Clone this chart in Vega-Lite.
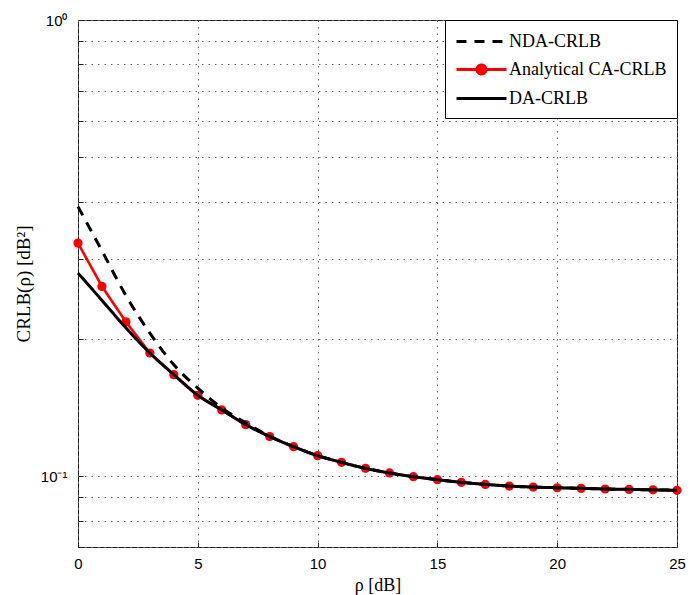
{
  "$schema": "https://vega.github.io/schema/vega-lite/v6.json",
  "width": 599,
  "height": 527,
  "autosize": {"type": "none"},
  "padding": {"left": 78, "top": 20, "right": 22, "bottom": 48},
  "background": "white",
  "config": {
    "view": {"stroke": "#222", "strokeWidth": 1},
    "font": "Liberation Sans",
    "legend": {
      "orient": "top-right",
      "offset": 0,
      "padding": 10,
      "strokeColor": "#000",
      "fillColor": "#ffffff",
      "cornerRadius": 0,
      "symbolSize": 400,
      "symbolStrokeWidth": 3,
      "symbolOffset": 15,
      "labelOffset": 16,
      "labelFont": "Liberation Serif",
      "labelFontSize": 18,
      "labelColor": "#000",
      "labelLimit": 300,
      "labelExpr": "datum.label + '\u00a0\u00a0\u00a0'",
      "rowPadding": 7
    }
  },
  "data": {
    "values": [
      {"x": 0, "y": 0.390, "s": "NDA-CRLB"},
      {"x": 1, "y": 0.312, "s": "NDA-CRLB"},
      {"x": 2, "y": 0.249, "s": "NDA-CRLB"},
      {"x": 3, "y": 0.206, "s": "NDA-CRLB"},
      {"x": 4, "y": 0.1756, "s": "NDA-CRLB"},
      {"x": 5, "y": 0.156, "s": "NDA-CRLB"},
      {"x": 6, "y": 0.1412, "s": "NDA-CRLB"},
      {"x": 7, "y": 0.131, "s": "NDA-CRLB"},
      {"x": 8, "y": 0.1224, "s": "NDA-CRLB"},
      {"x": 9, "y": 0.1162, "s": "NDA-CRLB"},
      {"x": 10, "y": 0.111, "s": "NDA-CRLB"},
      {"x": 11, "y": 0.1073, "s": "NDA-CRLB"},
      {"x": 12, "y": 0.1041, "s": "NDA-CRLB"},
      {"x": 13, "y": 0.1017, "s": "NDA-CRLB"},
      {"x": 14, "y": 0.0998, "s": "NDA-CRLB"},
      {"x": 15, "y": 0.0983, "s": "NDA-CRLB"},
      {"x": 16, "y": 0.0970, "s": "NDA-CRLB"},
      {"x": 17, "y": 0.0960, "s": "NDA-CRLB"},
      {"x": 18, "y": 0.0952, "s": "NDA-CRLB"},
      {"x": 19, "y": 0.0947, "s": "NDA-CRLB"},
      {"x": 20, "y": 0.0944, "s": "NDA-CRLB"},
      {"x": 21, "y": 0.0941, "s": "NDA-CRLB"},
      {"x": 22, "y": 0.0938, "s": "NDA-CRLB"},
      {"x": 23, "y": 0.0936, "s": "NDA-CRLB"},
      {"x": 24, "y": 0.0934, "s": "NDA-CRLB"},
      {"x": 25, "y": 0.0932, "s": "NDA-CRLB"},
      {"x": 0, "y": 0.3245, "s": "Analytical CA-CRLB"},
      {"x": 1, "y": 0.2607, "s": "Analytical CA-CRLB"},
      {"x": 2, "y": 0.218, "s": "Analytical CA-CRLB"},
      {"x": 3, "y": 0.1863, "s": "Analytical CA-CRLB"},
      {"x": 4, "y": 0.167, "s": "Analytical CA-CRLB"},
      {"x": 5, "y": 0.1505, "s": "Analytical CA-CRLB"},
      {"x": 6, "y": 0.1398, "s": "Analytical CA-CRLB"},
      {"x": 7, "y": 0.1298, "s": "Analytical CA-CRLB"},
      {"x": 8, "y": 0.1222, "s": "Analytical CA-CRLB"},
      {"x": 9, "y": 0.1161, "s": "Analytical CA-CRLB"},
      {"x": 10, "y": 0.111, "s": "Analytical CA-CRLB"},
      {"x": 11, "y": 0.1073, "s": "Analytical CA-CRLB"},
      {"x": 12, "y": 0.1041, "s": "Analytical CA-CRLB"},
      {"x": 13, "y": 0.1017, "s": "Analytical CA-CRLB"},
      {"x": 14, "y": 0.0998, "s": "Analytical CA-CRLB"},
      {"x": 15, "y": 0.0983, "s": "Analytical CA-CRLB"},
      {"x": 16, "y": 0.0970, "s": "Analytical CA-CRLB"},
      {"x": 17, "y": 0.0960, "s": "Analytical CA-CRLB"},
      {"x": 18, "y": 0.0952, "s": "Analytical CA-CRLB"},
      {"x": 19, "y": 0.0947, "s": "Analytical CA-CRLB"},
      {"x": 20, "y": 0.0944, "s": "Analytical CA-CRLB"},
      {"x": 21, "y": 0.0941, "s": "Analytical CA-CRLB"},
      {"x": 22, "y": 0.0938, "s": "Analytical CA-CRLB"},
      {"x": 23, "y": 0.0936, "s": "Analytical CA-CRLB"},
      {"x": 24, "y": 0.0934, "s": "Analytical CA-CRLB"},
      {"x": 25, "y": 0.0932, "s": "Analytical CA-CRLB"},
      {"x": 0, "y": 0.2788, "s": "DA-CRLB"},
      {"x": 1, "y": 0.2430, "s": "DA-CRLB"},
      {"x": 2, "y": 0.2115, "s": "DA-CRLB"},
      {"x": 3, "y": 0.1863, "s": "DA-CRLB"},
      {"x": 4, "y": 0.167, "s": "DA-CRLB"},
      {"x": 5, "y": 0.1505, "s": "DA-CRLB"},
      {"x": 6, "y": 0.1398, "s": "DA-CRLB"},
      {"x": 7, "y": 0.1298, "s": "DA-CRLB"},
      {"x": 8, "y": 0.1222, "s": "DA-CRLB"},
      {"x": 9, "y": 0.1161, "s": "DA-CRLB"},
      {"x": 10, "y": 0.111, "s": "DA-CRLB"},
      {"x": 11, "y": 0.1073, "s": "DA-CRLB"},
      {"x": 12, "y": 0.1041, "s": "DA-CRLB"},
      {"x": 13, "y": 0.1017, "s": "DA-CRLB"},
      {"x": 14, "y": 0.0998, "s": "DA-CRLB"},
      {"x": 15, "y": 0.0983, "s": "DA-CRLB"},
      {"x": 16, "y": 0.0970, "s": "DA-CRLB"},
      {"x": 17, "y": 0.0960, "s": "DA-CRLB"},
      {"x": 18, "y": 0.0952, "s": "DA-CRLB"},
      {"x": 19, "y": 0.0947, "s": "DA-CRLB"},
      {"x": 20, "y": 0.0944, "s": "DA-CRLB"},
      {"x": 21, "y": 0.0941, "s": "DA-CRLB"},
      {"x": 22, "y": 0.0938, "s": "DA-CRLB"},
      {"x": 23, "y": 0.0936, "s": "DA-CRLB"},
      {"x": 24, "y": 0.0934, "s": "DA-CRLB"},
      {"x": 25, "y": 0.0932, "s": "DA-CRLB"}
    ]
  },
  "encoding": {
    "x": {
      "field": "x",
      "type": "quantitative",
      "scale": {"domain": [0, 25], "nice": false, "zero": false},
      "axis": {
        "values": [0, 5, 10, 15, 20, 25],
        "grid": true,
        "gridDash": [1.5, 5],
        "gridColor": "#666",
        "gridOpacity": 1,
        "gridWidth": 1,
        "domain": false,
        "tickSize": -5,
        "tickColor": "#222",
        "labelFont": "Liberation Sans",
        "labelFontSize": 15,
        "labelColor": "#000",
        "labelPadding": 14,
        "labelFlush": false,
        "title": "ρ [dB]",
        "titleFont": "Liberation Serif",
        "titleFontSize": 18,
        "titleFontWeight": "normal",
        "titleColor": "#000",
        "titlePadding": 5
      }
    },
    "y": {
      "field": "y",
      "type": "quantitative",
      "scale": {"type": "log", "domain": [0.07, 1], "nice": false},
      "axis": {
        "values": [0.07, 0.08, 0.09, 0.1, 0.2, 0.3, 0.4, 0.5, 0.6, 0.7, 0.8, 0.9, 1],
        "labelExpr": "abs(datum.value - 1) < 1e-9 ? '10⁰' : (abs(datum.value - 0.1) < 1e-9 ? '10⁻¹' : '')",
        "grid": true,
        "gridDash": [1.5, 5],
        "gridColor": "#666",
        "gridOpacity": 1,
        "gridWidth": 1,
        "domain": false,
        "tickSize": -5,
        "tickColor": "#222",
        "labelFont": "Liberation Sans",
        "labelFontSize": 15,
        "labelColor": "#000",
        "labelPadding": 16,
        "labelFlush": false,
        "labelOverlap": false,
        "title": "CRLB(ρ) [dB²]",
        "titleFont": "Liberation Serif",
        "titleFontSize": 19,
        "titleFontWeight": "normal",
        "titleColor": "#000",
        "titlePadding": 7
      }
    }
  },
  "layer": [
    {
      "transform": [{"filter": "datum.s === 'Analytical CA-CRLB'"}],
      "mark": {"type": "line", "strokeWidth": 2.6},
      "encoding": {
        "color": {
          "field": "s", "type": "nominal",
          "scale": {"domain": ["NDA-CRLB", "Analytical CA-CRLB", "DA-CRLB"], "range": ["#000000", "#ff0000", "#000000"]},
          "legend": {"title": null}
        },
        "strokeDash": {
          "field": "s", "type": "nominal",
          "scale": {"domain": ["NDA-CRLB", "Analytical CA-CRLB", "DA-CRLB"], "range": [[10, 8], [1, 0], [1, 0]]},
          "legend": {"title": null}
        }
      }
    },
    {
      "transform": [{"filter": "datum.s === 'Analytical CA-CRLB'"}],
      "mark": {"type": "point", "filled": true, "size": 85, "color": "#ff0000", "opacity": 1}
    },
    {
      "transform": [{"filter": "datum.s !== 'Analytical CA-CRLB'"}],
      "mark": {"type": "line", "strokeWidth": 3, "interpolate": "monotone"},
      "encoding": {
        "color": {"field": "s", "type": "nominal", "legend": {"title": null}},
        "strokeDash": {"field": "s", "type": "nominal", "legend": {"title": null}}
      }
    },
    {
      "transform": [{"filter": "datum.x < 0"}],
      "mark": {"type": "point", "filled": true, "opacity": 1},
      "encoding": {
        "color": {"field": "s", "type": "nominal", "legend": {"title": null}},
        "shape": {
          "field": "s", "type": "nominal",
          "scale": {
            "domain": ["NDA-CRLB", "Analytical CA-CRLB", "DA-CRLB"],
            "range": [
              "M-2.5,0L2.5,0",
              "M-2.5,0L2.5,0M0.45,0A0.45,0.45,0,1,1,-0.45,0A0.45,0.45,0,1,1,0.45,0Z",
              "M-2.5,0L2.5,0"
            ]
          },
          "legend": {"title": null}
        }
      }
    }
  ]
}
